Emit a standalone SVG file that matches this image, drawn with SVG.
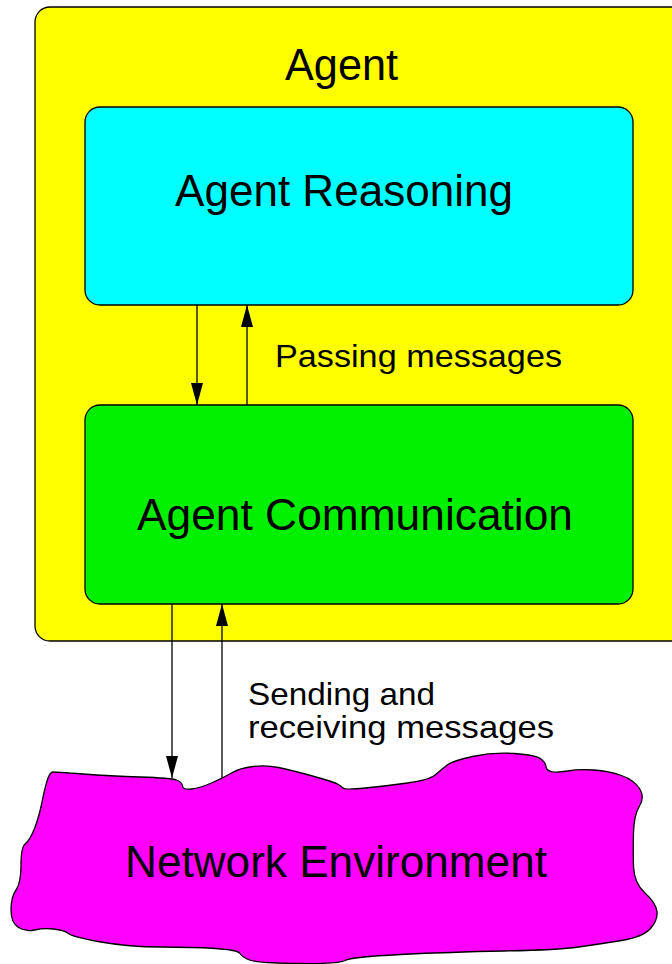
<svg xmlns="http://www.w3.org/2000/svg" width="672" height="964" viewBox="0 0 672 964">
<style>
  .box { stroke: #000; stroke-width: 1.3; }
  .big { font-family: "Liberation Sans", Arial, sans-serif; font-size: 44px; fill: #000; }
  .small { font-family: "Liberation Sans", Arial, sans-serif; font-size: 32px; fill: #000; }
  .conn { stroke: #000; stroke-width: 1.3; fill: none; marker-end: url(#arrow); }
</style>
<defs>
  <marker id="arrow" markerUnits="userSpaceOnUse" markerWidth="22" markerHeight="12" refX="22" refY="6" orient="auto">
    <path d="M0,0 L22,6 L0,12 Z" fill="#000"/>
  </marker>
</defs>
<rect width="672" height="964" fill="#fff"/>
<g id="agent">
  <rect class="box" x="35" y="7" width="665" height="634" rx="15" ry="15" fill="#ffff00"/>
  <text class="big" x="285" y="80" textLength="113" lengthAdjust="spacingAndGlyphs">Agent</text>
</g>
<g id="agent-reasoning">
  <rect class="box" x="85" y="107" width="548" height="198" rx="15" ry="15" fill="#00ffff"/>
  <text class="big" x="175" y="206" textLength="338" lengthAdjust="spacingAndGlyphs">Agent Reasoning</text>
</g>
<g id="agent-communication">
  <rect class="box" x="85" y="405" width="548" height="199" rx="15" ry="15" fill="#00f000"/>
  <text class="big" x="137" y="530" textLength="436" lengthAdjust="spacingAndGlyphs">Agent Communication</text>
</g>
<g id="network-environment">
  <path class="box" fill="#ff00ff" d="M 53,772 Q 56,772 83,774 Q 110,776 140.5,777 Q 171,778 176.5,780 Q 182,782 182.5,786 Q 183,790 191.5,789 Q 200,788 211.5,783 Q 223,778 231.5,773 Q 240,768 253,766.5 Q 266,765 278.5,767.5 Q 291,770 312.5,776 Q 334,782 337.5,784 Q 341,786 343,788 Q 345,790 365.5,788 Q 386,786 407.5,783 Q 429,780 435,775 Q 441,770 446.5,765.5 Q 452,761 472.5,756.5 Q 493,752 514.5,753.5 Q 536,755 541,759 Q 546,763 546,766.5 Q 546,770 551,771.5 Q 556,773 567.5,771 Q 579,769 594,770 Q 609,771 621.5,775.5 Q 634,780 639.5,788.5 Q 645,797 639.5,806 Q 634,815 633.5,832.5 Q 633,850 633.5,866.5 Q 634,883 645,893 Q 656,903 657,911.5 Q 658,920 650.5,928.5 Q 643,937 621.5,940.5 Q 600,944 578.5,947 Q 557,950 503.5,951 Q 450,952 400.5,954.5 Q 351,957 345,960.5 Q 339,964 298,963.5 Q 257,963 249.5,960 Q 242,957 240,953.5 Q 238,950 215.5,948.5 Q 193,947 161,947 Q 129,947 101,942 Q 73,937 68.5,933.5 Q 64,930 53.5,929 Q 43,928 34.5,930 Q 26,932 18.5,927.5 Q 11,923 11,910 Q 11,897 16,890 Q 21,883 21,865 Q 21,847 25.5,843.5 Q 30,840 34.5,828.5 Q 39,817 42,802 Q 45,787 47.5,779.5 Q 50,772 53,772 Z"/>
  <text class="big" x="125" y="877" textLength="422" lengthAdjust="spacingAndGlyphs">Network Environment</text>
</g>
<g id="connectors">
  <line class="conn" x1="197" y1="305" x2="197" y2="405"/>
  <line class="conn" x1="247" y1="405" x2="247" y2="305"/>
  <line class="conn" x1="172" y1="604" x2="172" y2="778"/>
  <line class="conn" x1="222" y1="778" x2="222" y2="604"/>
  <text class="small" x="275" y="367" textLength="287" lengthAdjust="spacingAndGlyphs">Passing messages</text>
  <text class="small" x="248" y="705" textLength="187" lengthAdjust="spacingAndGlyphs">Sending and</text>
  <text class="small" x="248" y="738" textLength="306" lengthAdjust="spacingAndGlyphs">receiving messages</text>
</g>
</svg>
